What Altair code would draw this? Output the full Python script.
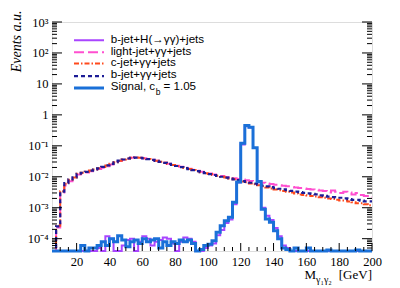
import altair as alt
import pandas as pd

F = 4e-5  # empty bin (drawn on the lower frame)

# bin edges (2.5 GeV bins from 5 to 200)
edges = [5 + 2.5 * i for i in range(79)]

b_gg = [F, 2.5e-4, 3.3e-3, 6.2e-3, 8.2e-3, 9.6e-3,
        0.0125, 0.0135, 0.0145, 0.0158, 0.0172, 0.0188, 0.0208, 0.0232, 0.0262, 0.0295,
        0.0330, 0.0362, 0.0390, 0.0410, 0.0418, 0.0412, 0.0395, 0.0374, 0.0350, 0.0327,
        0.0304, 0.0282, 0.0261, 0.0241, 0.0223, 0.0206, 0.0191, 0.0177, 0.0164, 0.0152,
        0.0141, 0.0131, 0.0122, 0.0114, 0.0107, 0.0100, 0.0094, 0.0088, 0.0083, 0.0078,
        0.0073, 0.0068, 0.0064, 0.0060, 0.0056, 0.0052, 0.0049, 0.0046, 0.0043, 0.0041,
        0.0039, 0.0037, 0.0035, 0.0033, 0.0032, 0.0030, 0.0029, 0.0028, 0.0027, 0.0025,
        0.0024, 0.0023, 0.0022, 0.0021, 0.0021, 0.0020, 0.0019, 0.0018, 0.0018, 0.0017,
        0.0016, 0.0016]

light_gg = [F, 2.3e-4, 3.1e-3, 5.2e-3, 7.2e-3, 9.0e-3,
            0.0118, 0.0128, 0.0138, 0.0150, 0.0163, 0.0178, 0.0196, 0.0220, 0.0250, 0.0285,
            0.0322, 0.0355, 0.0385, 0.0408, 0.0416, 0.0412, 0.0396, 0.0376, 0.0353, 0.0330,
            0.0307, 0.0285, 0.0264, 0.0245, 0.0227, 0.0210, 0.0195, 0.0181, 0.0169, 0.0157,
            0.0146, 0.0136, 0.0127, 0.0119, 0.0112, 0.0105, 0.0099, 0.0094, 0.0089, 0.0085,
            0.0081, 0.0077, 0.0073, 0.0070, 0.0067, 0.0064, 0.0061, 0.0058, 0.0055, 0.0053,
            0.0051, 0.0049, 0.0047, 0.0045, 0.0043, 0.0042, 0.0040, 0.0039, 0.0038, 0.0036,
            0.0035, 0.0031, 0.0036, 0.0033, 0.0030, 0.0033, 0.0031, 0.0027, 0.0030, 0.0026,
            0.0024, 0.0022]

c_gg = [F, 2.6e-4, 3.4e-3, 6.0e-3, 8.0e-3, 9.5e-3,
        0.0125, 0.0135, 0.0145, 0.0158, 0.0172, 0.0188, 0.0208, 0.0232, 0.0262, 0.0295,
        0.0330, 0.0362, 0.0390, 0.0410, 0.0418, 0.0412, 0.0395, 0.0374, 0.0350, 0.0327,
        0.0304, 0.0282, 0.0261, 0.0241, 0.0223, 0.0206, 0.0191, 0.0177, 0.0164, 0.0152,
        0.0141, 0.0131, 0.0122, 0.0114, 0.0107, 0.0100, 0.0094, 0.0088, 0.0083, 0.0076,
        0.0071, 0.0066, 0.0061, 0.0057, 0.0053, 0.0049, 0.0045, 0.0042, 0.0039, 0.0037,
        0.0035, 0.0033, 0.0031, 0.0029, 0.0027, 0.0026, 0.0025, 0.0024, 0.0023, 0.0022,
        0.0021, 0.0020, 0.0019, 0.0018, 0.0017, 0.0017, 0.0016, 0.0015, 0.0014, 0.0014,
        0.0013, 0.0012]

bH = [F, F, F, F, F, F, F, F, F, F, F, 5e-5, F, 1.2e-4, 1.0e-4, F,
      F, 6e-5, 9e-5, 1.0e-4, F, 8e-5, 1.2e-4, 1.0e-4, 6e-5, 8e-5,
      9e-5, 1.1e-4, 1.0e-4, 7e-5, F, 8e-5, 1.1e-4, 1.0e-4, 8e-5, F,
      F, 5e-5, 6e-5, 7e-5, 1.3e-4, 1.9e-4, 3.2e-4, 4.2e-4, 1.3e-3, 6.5e-3,
      0.11, 0.43, 0.39, 0.085, 7e-3, 1.0e-3, 5.5e-4, 4.0e-4, 2.2e-4, 1.2e-4,
      6e-5, 5e-5, F, F, F, F, F, F, F, F,
      F, F, F, F, F, F, F, F, F, F,
      F, F]

signal = [F, F, F, F, F, F, F, 6e-5, F, 5e-5, 5e-5, 6e-5, 8e-5, 6e-5, 1.0e-4, 8e-5,
          1.25e-4, 9e-5, 5.5e-5, 8e-5, 9e-5, 7e-5, 1.0e-4, 8e-5, 9e-5, 1.0e-4,
          5e-5, 8e-5, 6e-5, 8e-5, 7e-5, 9e-5, 8e-5, 9e-5, 7e-5, F,
          4.5e-5, 6e-5, 6.6e-5, 8.5e-5, 1.6e-4, 2.6e-4, 3.8e-4, 4.9e-4, 1.5e-3, 6.8e-3,
          0.12, 0.45, 0.40, 0.087, 7e-3, 9e-4, 4.3e-4, 3.4e-4, 1.8e-4, 1.0e-4,
          5e-5, 4.5e-5, F, 5e-5, F, F, 5e-5, F, F, F,
          F, 4.3e-5, F, F, F, F, F, F, 4.3e-5, F,
          F, F]

labels = ["b-jet+H(\u2192\u03b3\u03b3)+jets", "light-jet+\u03b3\u03b3+jets",
          "c-jet+\u03b3\u03b3+jets", "b-jet+\u03b3\u03b3+jets", "Signal, c"]

W, H = 320, 229
xscale = alt.Scale(domain=[5, 200], nice=False, zero=False)
yscale = alt.Scale(type="log", domain=[4e-5, 1000], nice=False)

x_major = [20, 40, 60, 80, 100, 120, 140, 160, 180, 200]
x_minor = [v for v in range(10, 200, 5) if v % 20 != 0]
y_major = [1e-4, 1e-3, 1e-2, 1e-1, 1, 10, 100, 1000]
y_minor = [m * 10.0 ** e for e in range(-5, 3) for m in range(2, 10) if m * 10.0 ** e > 4.1e-5]

serif = "Liberation Serif"
sans = "Liberation Sans"

xaxis = alt.Axis(values=x_major, ticks=False, domain=False, grid=False,
                 labelFont=serif, labelFontSize=12.5, labelColor="black",
                 labelPadding=4, title=None, labelFlush=False)
yaxis = alt.Axis(values=y_major, ticks=False, domain=False, grid=False,
                 labelFont=serif, labelFontSize=12.5, labelColor="black", labelPadding=4,
                 labelExpr="['10\u207b\u2074','10\u207b\u00b3','10\u207b\u00b2','10\u207b\u00b9','1','10','10\u00b2','10\u00b3'][round(log(datum.value)/LN10)+4]",
                 title="Events a.u.", titleFont=serif, titleFontStyle="italic",
                 titleFontWeight="normal", titleFontSize=14, titleColor="black",
                 titleAngle=270, titleAlign="right", titleBaseline="alphabetic",
                 titleX=-31.5, titleY=-12, labelFlush=False)


def hist(vals, color, dash, width):
    df = pd.DataFrame({"x": edges, "y": vals + [vals[-1]]})
    return alt.Chart(df).mark_line(interpolate="step-after", color=color,
                                   strokeDash=dash, strokeWidth=width).encode(
        x=alt.X("x:Q", scale=xscale, axis=xaxis),
        y=alt.Y("y:Q", scale=yscale, axis=yaxis),
    )


styles = [
    (bH, "#a945ff", [1, 0], 2.0),
    (light_gg, "#ff4fd0", [10, 4], 2.0),
    (c_gg, "#ff4a1c", [5, 2, 1.5, 2], 2.0),
    (b_gg, "#1c1c96", [4, 3], 2.2),
    (signal, "#1a70d8", [1, 0], 3.0),
]

layers = [hist(v, c, d, w) for (v, c, d, w) in styles]


def yticks(vals, x0, x1):
    return alt.Chart(pd.DataFrame({"y": vals})).mark_rule(color="black", strokeWidth=1).encode(
        y=alt.Y("y:Q", scale=yscale, axis=yaxis), x=alt.value(x0), x2=alt.value(x1))


def xticks(vals, length):
    return alt.Chart(pd.DataFrame({"x": vals})).mark_rule(color="black", strokeWidth=1).encode(
        x=alt.X("x:Q", scale=xscale, axis=xaxis), y=alt.value(H), y2=alt.value(H - length))


layers += [yticks(y_major, 0, 10), yticks(y_minor, 0, 5),
           yticks(y_major, W - 10, W), yticks(y_minor, W - 5, W),
           xticks(x_major, 8), xticks(x_minor, 4)]

one = pd.DataFrame({"a": [0]})


def txt(s, x, y, size, font, align="left", baseline="middle", style="normal"):
    return alt.Chart(one).mark_text(align=align, baseline=baseline, font=font, fontSize=size,
                                    fontStyle=style, color="black").encode(
        x=alt.value(x), y=alt.value(y), text=alt.value(s))


row_text = [17.5, 29.7, 41.4, 53.0, 65.3]
row_line = [18.3, 30.3, 41.6, 54.2, 66.0]
for k, (vals, col, dash, wd) in enumerate(styles):
    layers.append(alt.Chart(one).mark_rule(color=col, strokeDash=dash, strokeWidth=wd).encode(
        x=alt.value(22), x2=alt.value(52), y=alt.value(row_line[k])))
    layers.append(txt(labels[k], 58.7, row_text[k], 11.6, sans))
layers.append(txt("b", 103.8, 69.8, 8.5, sans))
layers.append(txt("= 1.05", 111.5, row_text[4], 11.6, sans))

# x-axis title M_{gamma1 gamma2} [GeV]
layers.append(txt("M", 252.5, 257.3, 13, serif, baseline="alphabetic"))
layers.append(txt("\u03b3\u2081\u03b3\u2082", 264.0, 260.5, 10, serif, baseline="alphabetic"))
layers.append(txt("[GeV]", W, 257.3, 13, serif, align="right", baseline="alphabetic"))

chart = alt.layer(*layers).properties(
    width=W, height=H,
    autosize=alt.AutoSizeParams(type="none"),
    padding={"left": 44, "top": 14, "right": 20, "bottom": 34},
).configure_view(stroke="#111111", strokeWidth=1.2).configure(background="white")

chart.save("out.html", embed_options={"renderer": "svg", "actions": False})
